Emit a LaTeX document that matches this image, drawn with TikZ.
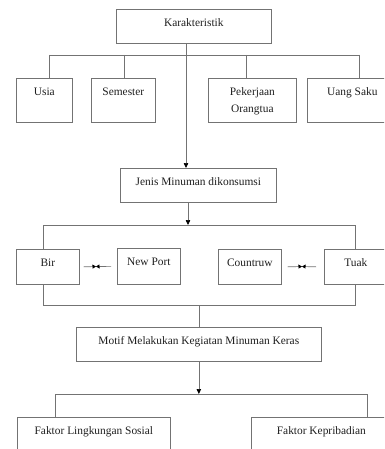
\documentclass[tikz,border=0pt]{standalone}
\usepackage{fontspec}
\setmainfont{Liberation Serif}
\usetikzlibrary{arrows.meta}
\definecolor{linec}{gray}{0.45}
\definecolor{textc}{gray}{0.12}
\begin{document}
\begin{tikzpicture}[x=1pt,y=-1pt,
  box/.style 2 args={draw=linec, line width=0.7pt, anchor=north west,
    inner xsep=0pt, inner ysep=0pt, minimum width=#1,
    text height=17pt, text depth=#2, align=center,
    font=\fontsize{11.4}{17}\selectfont, text=textc},
  ln/.style={draw=linec, line width=0.7pt},
  arr/.style={-{Triangle[length=5pt,width=4.5pt,color=black]}},
  sarr/.style={-{Triangle[length=3.5pt,width=4pt,color=black]}}]
\useasboundingbox (0,0) rectangle (384,449);
\clip (0,0) rectangle (384,449);
\fill[white] (0,0) rectangle (384,449);
% boxes
\node[box={155pt}{17pt}] (kar) at (116,9) {Karakteristik};
\node[box={56pt}{27pt}] (usia) at (16,78) {Usia};
\node[box={64pt}{27pt}] (sem) at (91,78) {Semester};
\node[box={88pt}{10pt}, text height=34pt] (pek) at (208,78) {Pekerjaan\\Orangtua};
\node[box={90pt}{27pt}] (uang) at (307,78) {Uang Saku};
\node[box={156pt}{17pt}] (jenis) at (120,168) {Jenis Minuman dikonsumsi};
\node[box={63pt}{18pt}] (bir) at (16,249) {Bir};
\node[box={63pt}{19pt}] (np) at (117,248) {New Port};
\node[box={63pt}{18pt}] (cou) at (218,249) {Countruw};
\node[box={63pt}{18pt}] (tuak) at (324,249) {Tuak};
\node[box={245pt}{17pt}] (motif) at (76,327) {Motif Melakukan Kegiatan Minuman Keras};
\node[box={153pt}{33pt}] (fls) at (17,417) {Faktor Lingkungan Sosial};
\node[box={140pt}{33pt}] (fk) at (251,417) {Faktor Kepribadian};
% level 1 bus
\coordinate (t) at (186,55);
\coordinate (bL) at (49,55);
\coordinate (bR) at (359,55);
\coordinate (s2) at (124,55);
\coordinate (s3) at (246,55);
\draw[ln] (bL) -- (bR);
\draw[ln] (bL) -- (bL |- usia.north);
\draw[ln] (s2) -- (s2 |- sem.north);
\draw[ln] (s3) -- (s3 |- pek.north);
\draw[ln] (bR) -- (bR |- uang.north);
\draw[ln,arr] (kar.south -| t) -- (t |- jenis.north);
% level 2 bus
\coordinate (j) at (188,225);
\coordinate (jL) at (43,225);
\coordinate (jR) at (355,225);
\draw[ln,arr] (jenis.south -| j) -- (j);
\draw[ln] (jL |- bir.north) -- (jL) -- (jR) -- (jR |- tuak.north);
% bracket below
\coordinate (kL) at (43,305);
\coordinate (kR) at (355,305);
\draw[ln] (kL |- bir.south) -- (kL) -- (kR) -- (kR |- tuak.south);
\draw[ln] (motif.north |- kL) -- (motif.north);
% level 3 bus
\coordinate (fL) at (55,394);
\coordinate (fR) at (367,394);
\draw[ln,arr] (motif.south) -- (motif.south |- fL);
\draw[ln] (fL |- fls.north) -- (fL) -- (fR) -- (fR |- fk.north);
% small facing arrows
\coordinate (m1) at (96,266.5);
\coordinate (m2) at (302,266.5);
\draw[ln,sarr] ([xshift=4pt]bir.east) -- (m1);
\draw[ln,sarr] ([xshift=-6pt]np.west) -- (m1);
\draw[ln,sarr] ([xshift=6pt]cou.east) -- (m2);
\draw[ln,sarr] ([xshift=-8pt]tuak.west) -- (m2);
\end{tikzpicture}
\end{document}
